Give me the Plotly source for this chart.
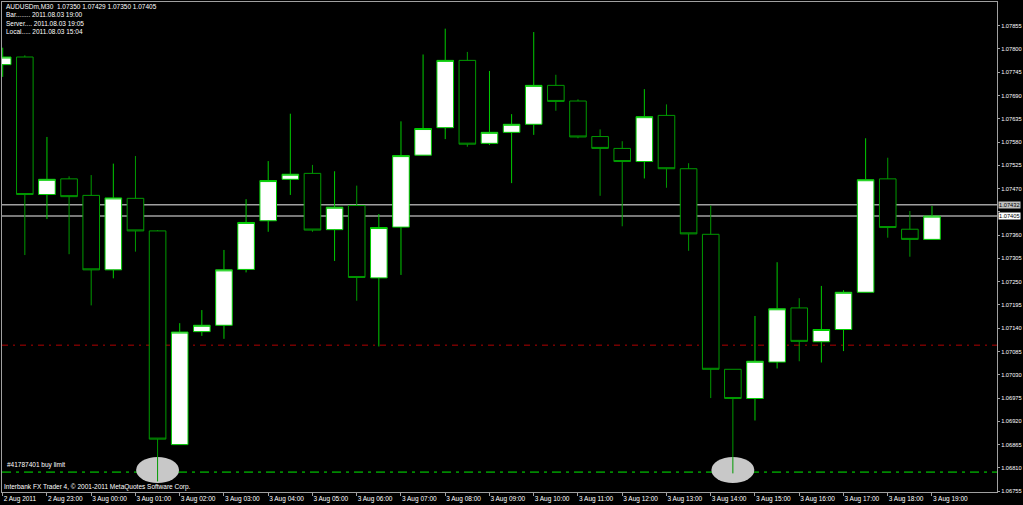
import plotly.graph_objects as go

# ---- data (AUDUSDm, M30) ----
times = ["2 Aug 22:00", "2 Aug 22:30", "2 Aug 23:00", "2 Aug 23:30",
         "3 Aug 00:00", "3 Aug 00:30", "3 Aug 01:00", "3 Aug 01:30",
         "3 Aug 02:00", "3 Aug 02:30", "3 Aug 03:00", "3 Aug 03:30",
         "3 Aug 04:00", "3 Aug 04:30", "3 Aug 05:00", "3 Aug 05:30",
         "3 Aug 06:00", "3 Aug 06:30", "3 Aug 07:00", "3 Aug 07:30",
         "3 Aug 08:00", "3 Aug 08:30", "3 Aug 09:00", "3 Aug 09:30",
         "3 Aug 10:00", "3 Aug 10:30", "3 Aug 11:00", "3 Aug 11:30",
         "3 Aug 12:00", "3 Aug 12:30", "3 Aug 13:00", "3 Aug 13:30",
         "3 Aug 14:00", "3 Aug 14:30", "3 Aug 15:00", "3 Aug 15:30",
         "3 Aug 16:00", "3 Aug 16:30", "3 Aug 17:00", "3 Aug 17:30",
         "3 Aug 18:00", "3 Aug 18:30", "3 Aug 19:00"]

opens = [1.07763, 1.07781, 1.07456, 1.07493, 1.07454, 1.07278, 1.07447, 1.07370,
         1.06865, 1.07132, 1.07147, 1.07279, 1.07394, 1.07492, 1.07506, 1.07373,
         1.07430, 1.07259, 1.07379, 1.07549, 1.07614, 1.07773, 1.07577, 1.07603,
         1.07622, 1.07714, 1.07677, 1.07593, 1.07565, 1.07534, 1.07643, 1.07517,
         1.07362, 1.07043, 1.06974, 1.07060, 1.07188, 1.07108, 1.07137, 1.07225,
         1.07493, 1.07374, 1.07350]
highs = [1.07803, 1.07785, 1.07592, 1.07499, 1.07502, 1.07529, 1.07547, 1.07372,
         1.07152, 1.07183, 1.07325, 1.07445, 1.07535, 1.07647, 1.07526, 1.07511,
         1.07477, 1.07410, 1.07629, 1.07787, 1.07848, 1.07793, 1.07748, 1.07646,
         1.07840, 1.07739, 1.07681, 1.07610, 1.07582, 1.07705, 1.07669, 1.07530,
         1.07430, 1.07043, 1.07169, 1.07296, 1.07211, 1.07240, 1.07230, 1.07589,
         1.07543, 1.07417, 1.07429]
lows = [1.07734, 1.07313, 1.07398, 1.07315, 1.07194, 1.07258, 1.07321, 1.06778,
        1.06865, 1.07122, 1.07115, 1.07272, 1.07368, 1.07455, 1.07368, 1.07299,
        1.07205, 1.07097, 1.07266, 1.07549, 1.07587, 1.07569, 1.07573, 1.07483,
        1.07597, 1.07654, 1.07589, 1.07453, 1.07381, 1.07494, 1.07472, 1.07323,
        1.06975, 1.06797, 1.06922, 1.07045, 1.07062, 1.07059, 1.07086, 1.07225,
        1.07354, 1.07309, 1.07350]
closes = [1.07781, 1.07456, 1.07492, 1.07451, 1.07278, 1.07448, 1.07370, 1.06878,
          1.07131, 1.07147, 1.07278, 1.07390, 1.07489, 1.07504, 1.07372, 1.07426,
          1.07260, 1.07378, 1.07548, 1.07612, 1.07773, 1.07575, 1.07603, 1.07622,
          1.07714, 1.07676, 1.07592, 1.07565, 1.07534, 1.07640, 1.07517, 1.07363,
          1.07043, 1.06974, 1.07062, 1.07186, 1.07109, 1.07137, 1.07225, 1.07491,
          1.07378, 1.07350, 1.07405]

tick_bars = [0, 2, 4, 6, 8, 10, 12, 14, 16, 18, 20, 22, 24, 26, 28, 30, 32, 34, 36, 38, 40, 42]
tick_text = ["2 Aug 2011", "2 Aug 23:00", "3 Aug 00:00", "3 Aug 01:00", "3 Aug 02:00",
             "3 Aug 03:00", "3 Aug 04:00", "3 Aug 05:00", "3 Aug 06:00", "3 Aug 07:00",
             "3 Aug 08:00", "3 Aug 09:00", "3 Aug 10:00", "3 Aug 11:00", "3 Aug 12:00",
             "3 Aug 13:00", "3 Aug 14:00", "3 Aug 15:00", "3 Aug 16:00", "3 Aug 17:00",
             "3 Aug 18:00", "3 Aug 19:00"]

price_ticks = [1.06755, 1.06810, 1.06865, 1.06920, 1.06975, 1.07030, 1.07085,
               1.07140, 1.07195, 1.07250, 1.07305, 1.07360, 1.07415, 1.07470,
               1.07525, 1.07580, 1.07635, 1.07690, 1.07745, 1.07800, 1.07855]

ask_price = 1.07432
bid_price = 1.07405
buy_limit = 1.06800
level_red = 1.07100
hit_bars = [7, 33]
order_label = "#41787401 buy limit"

# ---- figure ----
FONT = "Liberation Sans"
FS = 6.5
FS_AX = 5.7
x = list(range(len(times)))

fig = go.Figure()
fig.add_trace(go.Candlestick(
    x=x, open=opens, high=highs, low=lows, close=closes,
    increasing=dict(fillcolor="#ffffff", line=dict(color="#00cc00", width=1)),
    decreasing=dict(fillcolor="#000000", line=dict(color="#009a00", width=1)),
    whiskerwidth=0, showlegend=False, hoverinfo="skip",
))

shapes = []
for b in hit_bars:
    shapes.append(dict(type="circle", xref="x", yref="y", layer="below",
                       x0=b - 0.97, x1=b + 0.97,
                       y0=buy_limit + 0.00005 - 0.00031, y1=buy_limit + 0.00005 + 0.00031,
                       fillcolor="#c8c8c8", line=dict(width=0)))
for p in (ask_price, bid_price):
    shapes.append(dict(type="line", xref="paper", yref="y", layer="below",
                       x0=0, x1=1, y0=p, y1=p, line=dict(color="#a0a0a0", width=1.5)))
shapes.append(dict(type="line", xref="paper", yref="y", layer="below",
                   x0=0, x1=1, y0=level_red, y1=level_red,
                   line=dict(color="#b00000", width=1, dash="6px,5px,2px,5px")))
shapes.append(dict(type="line", xref="paper", yref="y", layer="below",
                   x0=0, x1=1, y0=buy_limit, y1=buy_limit,
                   line=dict(color="#008800", width=1.6, dash="9px,5px,3px,5px")))

annotations = []
info = ["AUDUSDm,M30  %.5f %.5f %.5f %.5f" % (opens[-1], highs[-1], lows[-1], closes[-1]),
        "Bar........ 2011.08.03 19:00",
        "Server.... 2011.08.03 19:05",
        "Local..... 2011.08.03 15:04"]
for i, t in enumerate(info):
    annotations.append(dict(text=t, xref="paper", yref="paper", x=0, y=1,
                            xanchor="left", yanchor="top", xshift=2, yshift=1 - 8.3 * i,
                            showarrow=False, font=dict(family=FONT, size=FS, color="#ffffff")))
annotations.append(dict(text=order_label, xref="paper", yref="y", x=0, y=buy_limit,
                        xanchor="left", yanchor="bottom", xshift=3, yshift=1,
                        showarrow=False, font=dict(family=FONT, size=FS, color="#ffffff")))
annotations.append(dict(text="Interbank FX Trader 4, © 2001-2011 MetaQuotes Software Corp.",
                        xref="paper", yref="paper", x=0, y=0, xanchor="left", yanchor="bottom",
                        xshift=0, yshift=-1, showarrow=False,
                        font=dict(family=FONT, size=FS, color="#ffffff")))
for p, bg in ((ask_price, "#c0c0c0"), (bid_price, "#ffffff")):
    annotations.append(dict(text="%.5f" % p, xref="paper", yref="y", x=1, y=p,
                            xanchor="left", yanchor="middle", xshift=1, showarrow=False,
                            bgcolor=bg, borderpad=0,
                            font=dict(family=FONT, size=FS_AX, color="#000000")))

# the tick hidden behind the bid/ask labels is left blank
price_text = ["" if abs(v - bid_price) < 0.0002 else "%.5f" % v for v in price_ticks]

px_per_bar = 22.126
plot_w = 995
x0 = -0.7 / px_per_bar
fig.update_layout(
    width=1023, height=505,
    margin=dict(l=2, r=26, t=2, b=13),
    paper_bgcolor="#000000", plot_bgcolor="#000000",
    boxgap=0.25, boxgroupgap=0,
    shapes=shapes, annotations=annotations,
    font=dict(family=FONT, size=FS, color="#ffffff"),
    showlegend=False,
    xaxis=dict(range=[x0, x0 + plot_w / px_per_bar], rangeslider=dict(visible=False),
               tickmode="array", tickvals=tick_bars, ticktext=tick_text,
               tickangle=0, automargin=False,
               ticks="outside", ticklen=3, tickcolor="#a0a0a0", tickwidth=1,
               ticklabelposition="outside right",
               showgrid=False, zeroline=False, showline=True, mirror=True,
               linecolor="#a0a0a0", linewidth=1,
               tickfont=dict(family=FONT, size=FS, color="#ffffff")),
    yaxis=dict(side="right", range=[1.06753, 1.07911], automargin=False,
               tickmode="array", tickvals=price_ticks, ticktext=price_text,
               ticks="outside", ticklen=2, tickcolor="#a0a0a0",
               showgrid=False, zeroline=False, showline=True, mirror=True,
               linecolor="#a0a0a0", linewidth=1,
               tickfont=dict(family=FONT, size=FS_AX, color="#ffffff")),
)

fig.write_html("out.html", config={"displayModeBar": False},
               post_script="document.body.style.margin='0';document.body.style.overflow='hidden';")
